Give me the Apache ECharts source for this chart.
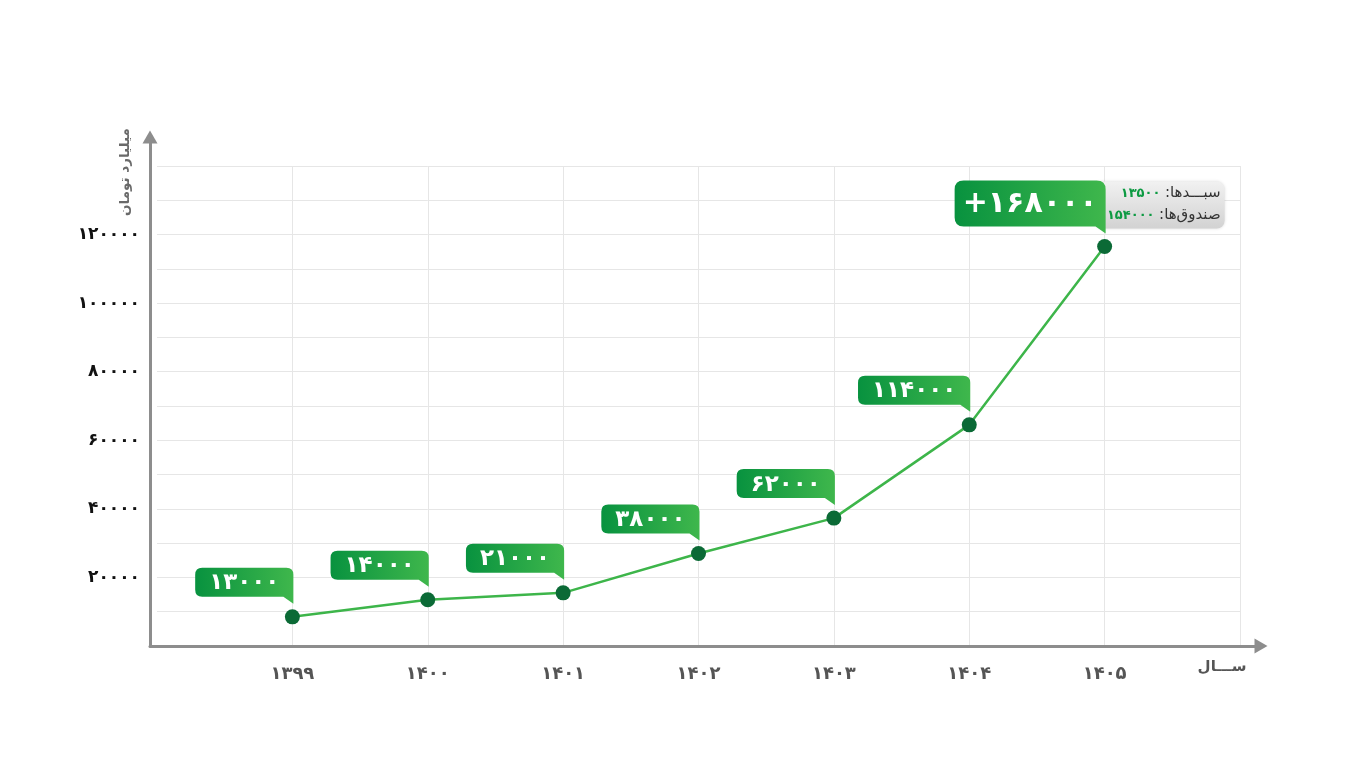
<!DOCTYPE html>
<html>
<head>
<meta charset="utf-8">
<script src="https://cdn.jsdelivr.net/npm/echarts@6/dist/echarts.min.js"></script>
<style>
html,body{margin:0;padding:0;background:#fff;}
#chart{width:1365px;height:768px;}
</style>
</head>
<body>
<div id="chart"></div>
<script>
// ---------- data ----------
const categories = ['', '۱۳۹۹', '۱۴۰۰', '۱۴۰۱', '۱۴۰۲', '۱۴۰۳', '۱۴۰۴', '۱۴۰۵', ''];
const plottedValues = [8500, 13500, 15500, 27000, 37300, 64500, 116500];
const calloutLabels = ['۱۳۰۰۰', '۱۴۰۰۰', '۲۱۰۰۰', '۳۸۰۰۰', '۶۲۰۰۰', '۱۱۴۰۰۰', '+۱۶۸۰۰۰'];
const yTickValues = [20000, 40000, 60000, 80000, 100000, 120000];
const yTickLabels = ['۲۰۰۰۰', '۴۰۰۰۰', '۶۰۰۰۰', '۸۰۰۰۰', '۱۰۰۰۰۰', '۱۲۰۰۰۰'];
const detailNames = ['سبـــدها', 'صندوق\u200cها'];
const detailValues = ['۱۳۵۰۰', '۱۵۴۰۰۰'];
const yAxisName = 'میلیارد تومان';
const xAxisName = 'ســـال';

const FONT = '"DejaVu Sans", sans-serif';
const seriesData = plottedValues.map((v, i) => [i + 1, v]);

const measureCtx = document.createElement('canvas').getContext('2d');
function textWidth(t, font) { measureCtx.font = font; return measureCtx.measureText(t).width; }

function calloutPath(x0, y0, x1, y1, r, tw, th) {
  return 'M' + (x0 + r) + ' ' + y0 + ' L' + (x1 - r) + ' ' + y0 +
    ' Q' + x1 + ' ' + y0 + ' ' + x1 + ' ' + (y0 + r) +
    ' L' + x1 + ' ' + (y1 + th) + ' L' + (x1 - tw) + ' ' + y1 +
    ' L' + (x0 + r) + ' ' + y1 + ' Q' + x0 + ' ' + y1 + ' ' + x0 + ' ' + (y1 - r) +
    ' L' + x0 + ' ' + (y0 + r) + ' Q' + x0 + ' ' + y0 + ' ' + (x0 + r) + ' ' + y0 + ' Z';
}

function renderCallout(params, api) {
  const i = params.dataIndex;
  const p = api.coord([api.value(0), api.value(1)]);
  const big = i === calloutLabels.length - 1;
  const h = big ? 46 : 29;
  const font = big ? 'bold 30px ' + FONT : 'bold 23px ' + FONT;
  const tw = textWidth(calloutLabels[i], font);
  const w = big ? Math.max(147, tw + 16) : Math.max(95, tw + 28);
  const x1 = p[0] + 1, y1 = p[1] - 20, x0 = x1 - w, y0 = y1 - h;
  const children = [];
  if (big) {
    children.push({
      type: 'rect',
      shape: { x: p[0] - 10, y: y0 + 1, width: 130, height: h + 1, r: 8 },
      style: {
        fill: new echarts.graphic.LinearGradient(0, 0, 0, 1, [
          { offset: 0, color: '#f1f1f1' }, { offset: 1, color: '#d2d2d2' }
        ]),
        shadowBlur: 3, shadowColor: 'rgba(0,0,0,0.15)'
      }
    });
    for (let k = 0; k < 2; k++) {
      children.push({
        type: 'text',
        style: {
          text: '{n|' + detailValues[k] + ' }{t|:' + detailNames[k] + '}',
          x: p[0] + 116, y: y0 + 13 + k * 22,
          align: 'right', verticalAlign: 'middle',
          rich: {
            n: { fontFamily: FONT, fontWeight: 'bold', fontSize: 13, fill: '#0c9a42', color: '#0c9a42' },
            t: { fontFamily: FONT, fontSize: 15, fill: '#333', color: '#333' }
          }
        }
      });
    }
  }
  children.push({
    type: 'path',
    shape: { pathData: calloutPath(x0, y0, x1, y1, big ? 9 : 7, 10, 7) },
    style: {
      fill: new echarts.graphic.LinearGradient(0, 0, 1, 0, [
        { offset: 0, color: '#08923f' }, { offset: 1, color: '#3fb74c' }
      ])
    }
  });
  children.push({
    type: 'text',
    style: {
      text: calloutLabels[i], x: (x0 + x1) / 2, y: (y0 + y1) / 2 + 1,
      align: 'center', verticalAlign: 'middle',
      font: font, fill: '#ffffff'
    }
  });
  return { type: 'group', children: children };
}

const chart = echarts.init(document.getElementById('chart'), null, { renderer: 'canvas' });
chart.setOption({
  backgroundColor: '#ffffff',
  animation: false,
  grid: [
    { left: 157, right: 125, top: 166, bottom: 122 },
    { left: 150, right: 104, top: 137, bottom: 122 }
  ],
  xAxis: [
    {
      gridIndex: 0, type: 'category', data: categories, boundaryGap: false,
      axisLine: { show: false }, axisTick: { show: false },
      axisLabel: { margin: 19, color: '#555', fontFamily: FONT, fontWeight: 'bold', fontSize: 18, interval: 0 },
      splitLine: { show: true, interval: (idx) => idx > 0, lineStyle: { color: '#e6e6e6', width: 1 } }
    },
    {
      gridIndex: 1, type: 'value', min: 0, max: 1,
      axisLine: { show: true, onZero: false, symbol: ['none', 'triangle'], symbolSize: [15, 13], lineStyle: { color: '#8d8d8d', width: 3 } },
      axisTick: { show: false }, axisLabel: { show: false }, splitLine: { show: false }
    }
  ],
  yAxis: [
    {
      gridIndex: 0, type: 'value', min: 0, max: 140000, interval: 10000,
      axisLine: { show: false }, axisTick: { show: false },
      axisLabel: {
        margin: 17, color: '#111', fontFamily: FONT, fontWeight: 'bold', fontSize: 17,
        formatter: (v) => { const k = yTickValues.indexOf(v); return k >= 0 ? yTickLabels[k] : ''; }
      },
      splitLine: { show: true, lineStyle: { color: '#e6e6e6', width: 1 } }
    },
    {
      gridIndex: 1, type: 'value', min: 0, max: 1,
      axisLine: { show: true, onZero: false, symbol: ['none', 'triangle'], symbolSize: [15, 13], lineStyle: { color: '#8d8d8d', width: 3 } },
      axisTick: { show: false }, axisLabel: { show: false }, splitLine: { show: false }
    }
  ],
  graphic: [
    {
      type: 'text', x: 125, y: 172, rotation: Math.PI / 2,
      style: { text: yAxisName, align: 'center', verticalAlign: 'middle', font: 'bold 13.5px ' + FONT, fill: '#6a6a6a' }
    },
    {
      type: 'text', x: 1222, y: 667,
      style: { text: xAxisName, align: 'center', verticalAlign: 'middle', font: 'bold 15px ' + FONT, fill: '#555' }
    }
  ],
  series: [
    {
      type: 'line', xAxisIndex: 0, yAxisIndex: 0, data: seriesData, z: 3,
      symbol: 'circle', symbolSize: 15,
      lineStyle: { color: '#3db54a', width: 2.5 },
      itemStyle: { color: '#0b6a36' }
    },
    {
      type: 'custom', xAxisIndex: 0, yAxisIndex: 0, data: seriesData, z: 4,
      renderItem: renderCallout
    }
  ]
});
</script>
</body>
</html>
